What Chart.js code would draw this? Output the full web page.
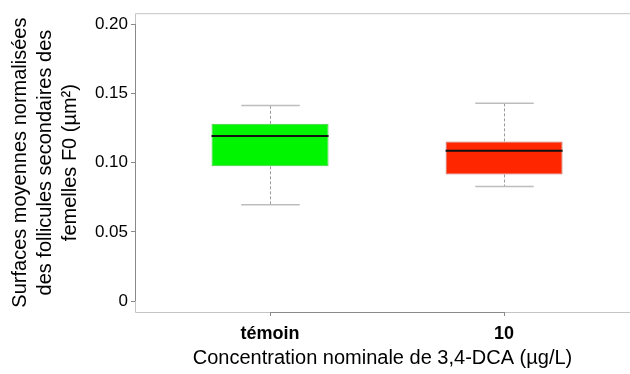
<!DOCTYPE html>
<html>
<head>
<meta charset="utf-8">
<script src="https://cdn.jsdelivr.net/npm/chart.js@4"></script>
<style>
  html, body { margin: 0; padding: 0; background: #fff; overflow: hidden; }
  canvas { display: block; }
</style>
</head>
<body>
<canvas id="chart" width="630" height="374"></canvas>
<script>
// groupes et positions sur l'axe x
const groupes = ["témoin", "10"];
const positions = [1, 2];
// statistiques des boîtes
const moustacheBas = [0.0696, 0.0827];
const q1 = [0.0973, 0.0914];
const mediane = [0.1192, 0.1086];
const q3 = [0.1280, 0.1153];
const moustacheHaut = [0.1412, 0.1429];
const couleurs = ["rgb(0,245,0)", "rgb(255,38,0)"];
const yTicks = [0, 0.05, 0.10, 0.15, 0.20];

const police = "'Liberation Sans', Arial, sans-serif";

// dessine le cadre, les axes, les moustaches et les médianes
const boxplotPlugin = {
    id: "boxplot",
    beforeDatasetsDraw(chart) {
        const ctx = chart.ctx;
        const area = chart.chartArea;
        const x = chart.scales.x, y = chart.scales.y;
        ctx.save();
        // cadre : le bord droit sort de l'image dans la figure
        ctx.strokeStyle = "#c4c4c4";
        ctx.lineWidth = 1;
        ctx.beginPath();
        ctx.moveTo(chart.width, area.top + 0.5);
        ctx.lineTo(area.left + 0.5, area.top + 0.5);
        ctx.lineTo(area.left + 0.5, area.bottom + 0.5);
        ctx.lineTo(chart.width, area.bottom + 0.5);
        ctx.stroke();
        // axe y de 0 à 0.20
        ctx.strokeStyle = "#8a8a8a";
        ctx.beginPath();
        ctx.moveTo(area.left + 0.5, y.getPixelForValue(yTicks[0]));
        ctx.lineTo(area.left + 0.5, y.getPixelForValue(yTicks[yTicks.length - 1]));
        ctx.stroke();
        // axe x entre les deux groupes, avec ses graduations
        ctx.beginPath();
        ctx.moveTo(x.getPixelForValue(positions[0]), area.bottom + 0.5);
        ctx.lineTo(x.getPixelForValue(positions[positions.length - 1]), area.bottom + 0.5);
        positions.forEach(p => {
            const px = Math.round(x.getPixelForValue(p)) + 0.5;
            ctx.moveTo(px, area.bottom);
            ctx.lineTo(px, area.bottom + 4);
        });
        ctx.stroke();

        const meta = chart.getDatasetMeta(0);
        meta.data.forEach((bar, i) => {
            const cx = Math.round(bar.x) + 0.5;
            const demi = bar.width / 2;
            // moustaches pointillées
            ctx.strokeStyle = "#9a9a9a";
            ctx.lineWidth = 1;
            ctx.setLineDash([3, 2]);
            ctx.beginPath();
            ctx.moveTo(cx, y.getPixelForValue(q3[i]));
            ctx.lineTo(cx, y.getPixelForValue(moustacheHaut[i]));
            ctx.moveTo(cx, y.getPixelForValue(q1[i]));
            ctx.lineTo(cx, y.getPixelForValue(moustacheBas[i]));
            ctx.stroke();
            ctx.setLineDash([]);
            // extrémités
            ctx.strokeStyle = "#bdbdbd";
            ctx.lineWidth = 1.5;
            ctx.beginPath();
            ctx.moveTo(cx - demi / 2, y.getPixelForValue(moustacheHaut[i]));
            ctx.lineTo(cx + demi / 2, y.getPixelForValue(moustacheHaut[i]));
            ctx.moveTo(cx - demi / 2, y.getPixelForValue(moustacheBas[i]));
            ctx.lineTo(cx + demi / 2, y.getPixelForValue(moustacheBas[i]));
            ctx.stroke();
        });
        ctx.restore();
    },
    afterDatasetsDraw(chart) {
        const ctx = chart.ctx;
        const y = chart.scales.y;
        ctx.save();
        ctx.strokeStyle = "#111";
        ctx.lineWidth = 2;
        chart.getDatasetMeta(0).data.forEach((bar, i) => {
            const py = y.getPixelForValue(mediane[i]);
            ctx.beginPath();
            ctx.moveTo(bar.x - bar.width / 2, py);
            ctx.lineTo(bar.x + bar.width / 2, py);
            ctx.stroke();
        });
        ctx.restore();
    }
};

new Chart(document.getElementById("chart"), {
    type: "bar",
    data: {
        datasets: [{
            data: positions.map((p, i) => ({ x: p, y: [q1[i], q3[i]] })),
            backgroundColor: couleurs,
            borderColor: ["rgb(70,200,70)", "rgb(190,120,110)"],
            borderWidth: 1,
            borderSkipped: false,
            grouped: false,
            barPercentage: 0.5,
            categoryPercentage: 1
        }]
    },
    options: {
        responsive: false,
        animation: false,
        devicePixelRatio: 1,
        layout: { padding: { top: 12, right: 0, left: 0, bottom: 0 } },
        plugins: { legend: { display: false }, tooltip: { enabled: false } },
        scales: {
            x: {
                type: "linear",
                min: 0.423,
                max: 2.538,
                offset: false,
                afterBuildTicks: (scale) => { scale.ticks = positions.map(v => ({ value: v })); },
                afterFit: (scale) => { scale.height = 62; },
                ticks: {
                    callback: (v) => groupes[positions.indexOf(v)],
                    color: "#000",
                    font: { family: police, size: 18, weight: "bold" },
                    padding: 3,
                    maxRotation: 0,
                    autoSkip: false
                },
                grid: { display: false },
                border: { display: false },
                title: {
                    display: true,
                    text: "Concentration nominale de 3,4-DCA (µg/L)",
                    color: "#000",
                    font: { family: police, size: 20 },
                    padding: { top: 4, bottom: 4 }
                }
            },
            y: {
                min: -0.0079,
                max: 0.2079,
                afterBuildTicks: (scale) => { scale.ticks = yTicks.map(v => ({ value: v })); },
                afterFit: (scale) => { scale.width = 135; },
                ticks: {
                    callback: (v) => v === 0 ? "0" : v.toFixed(2),
                    color: "#000",
                    font: { family: police, size: 17 },
                    padding: 3
                },
                grid: { display: true, drawOnChartArea: false, tickLength: 4, color: "#8a8a8a" },
                border: { display: false },
                title: {
                    display: true,
                    text: ["Surfaces moyennes normalisées", "des follicules secondaires des", "femelles F0 (µm²)"],
                    color: "#000",
                    font: { family: police, size: 20, lineHeight: 1.25 },
                    padding: { top: 8, bottom: 0 }
                }
            }
        }
    },
    plugins: [boxplotPlugin]
});
</script>
</body>
</html>
